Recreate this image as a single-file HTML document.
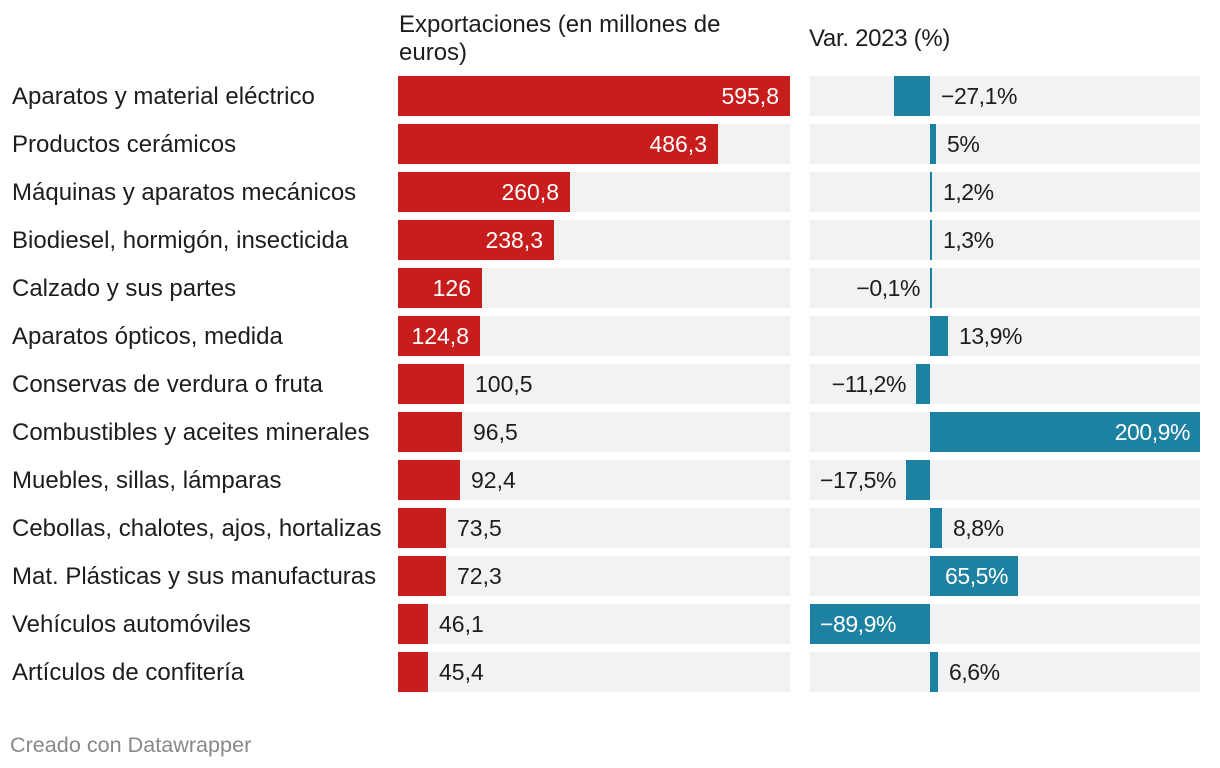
<!DOCTYPE html>
<html lang="es">
<head>
<meta charset="utf-8">
<title>Exportaciones</title>
<style>
html,body{margin:0;padding:0;background:#fff;width:1220px;height:768px;overflow:hidden}
svg{display:block}
text{font-family:"Liberation Sans",Arial,sans-serif;font-size:24px;fill:#1d1d1d}
</style>
</head>
<body>
<svg id="chart" width="1220" height="768" viewBox="0 0 1220 768" xmlns="http://www.w3.org/2000/svg">
  <text x="399" y="32">Exportaciones (en millones de</text>
  <text x="399" y="60">euros)</text>
  <text x="809" y="46" style="letter-spacing:-0.3px">Var. 2023 (%)</text>
  <g id="rows"></g>
  <text x="10" y="752" style="font-size:21.6px;fill:#888888">Creado con Datawrapper</text>
</svg>
<script>
const categories = ["Aparatos y material eléctrico","Productos cerámicos","Máquinas y aparatos mecánicos","Biodiesel, hormigón, insecticida","Calzado y sus partes","Aparatos ópticos, medida","Conservas de verdura o fruta","Combustibles y aceites minerales","Muebles, sillas, lámparas","Cebollas, chalotes, ajos, hortalizas","Mat. Plásticas y sus manufacturas","Vehículos automóviles","Artículos de confitería"];
const exportsValues = [595.8,486.3,260.8,238.3,126,124.8,100.5,96.5,92.4,73.5,72.3,46.1,45.4];
const changeValues = [-27.1,5,1.2,1.3,-0.1,13.9,-11.2,200.9,-17.5,8.8,65.5,-89.9,6.6];

const NS = "http://www.w3.org/2000/svg";
const rowsGroup = document.getElementById("rows");
const exportsLeft = 398.27, exportsRight = 790;
const changeLeft = 810, changeRight = 1200;
const changeZeroX = 930.1, changePxPerUnit = 1.344;
const exportsMax = Math.max.apply(null, exportsValues);

function xExports(v){ return exportsLeft + v * (exportsRight - exportsLeft) / exportsMax; }
function xChange(v){ return changeZeroX + v * changePxPerUnit; }
function yRow(i){ return 76 + i * 48; }
function snap(x){ return Math.round(x / 2) * 2; }
function fmtExport(v){ return String(v).replace(".", ","); }
function fmtChange(v){ return (v < 0 ? "\u2212" : "") + String(Math.abs(v)).replace(".", ",") + "%"; }

function rect(parent, x, y, w, h, fill){
  const r = document.createElementNS(NS, "rect");
  r.setAttribute("x", x);
  r.setAttribute("y", y);
  r.setAttribute("width", w);
  r.setAttribute("height", h);
  r.setAttribute("fill", fill);
  parent.appendChild(r);
  return r;
}
function label(parent, x, y, str, anchor, size, spacing){
  const t = document.createElementNS(NS, "text");
  t.setAttribute("x", x);
  t.setAttribute("y", y);
  t.setAttribute("text-anchor", anchor);
  if (size) t.style.fontSize = size + "px";
  if (spacing) t.style.letterSpacing = spacing + "px";
  t.textContent = str;
  parent.appendChild(t);
  return t;
}

categories.forEach(function(cat, i){
  const y = yRow(i), base = y + 28, pad = 11;
  const g = document.createElementNS(NS, "g");
  
  
  rowsGroup.appendChild(g);

  const cl = label(g, 12, base, cat, "start");
  
  

  const bg1 = rect(g, 398, y, exportsRight - 398, 40, "#f2f2f2");
  
  

  const ev = exportsValues[i];
  const eEnd = snap(xExports(ev));
  const bar1 = rect(g, 398, y, eEnd - 398, 40, "#c71e1d");
  
  

  const el = label(g, eEnd + pad, base, fmtExport(ev), "start", 23);
  
  
  if (eEnd - 398 >= el.getComputedTextLength() + 20) {
    el.setAttribute("x", eEnd - pad);
    el.setAttribute("text-anchor", "end");
    el.style.fill = "#ffffff";
  }

  const bg2 = rect(g, changeLeft, y, changeRight - changeLeft, 40, "#f2f2f2");
  
  

  const cv = changeValues[i];
  const zero = snap(xChange(0));
  const end = snap(xChange(cv));
  let x0 = Math.min(zero, end), x1 = Math.max(zero, end);
  if (x1 - x0 < 2) x1 = x0 + 2;
  const bar2 = rect(g, x0, y, x1 - x0, 40, "#1d81a2");
  
  

  const vl = label(g, x1 + pad, base, fmtChange(cv), "start", 23, -0.45);
  
  
  const tw = vl.getComputedTextLength();
  if (x1 - x0 >= tw + 20) {
    vl.style.fill = "#ffffff";
    if (cv >= 0) {
      vl.setAttribute("x", x1 - 10);
      vl.setAttribute("text-anchor", "end");
    } else {
      vl.setAttribute("x", x0 + 10);
    }
  } else if (cv < 0 && x0 - changeLeft >= tw + 18) {
    vl.setAttribute("x", x0 - 10);
    vl.setAttribute("text-anchor", "end");
  } else if (cv < 0) {
    vl.setAttribute("x", zero + pad);
  }
});
</script>
</body>
</html>
